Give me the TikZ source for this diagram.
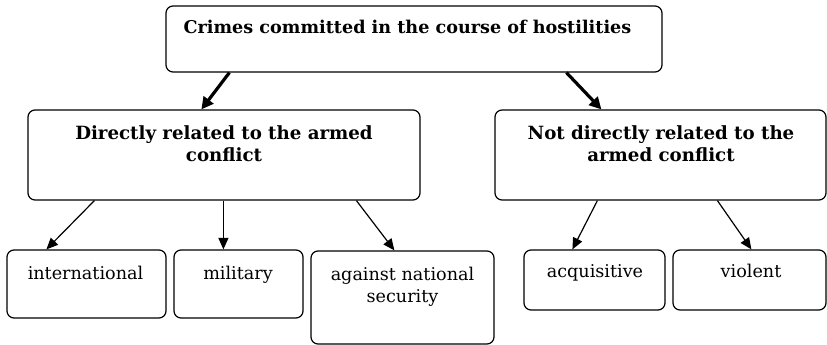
\documentclass[tikz,border=0pt]{standalone}
\usepackage{fontspec}
\setmainfont{DejaVu Serif}
\usetikzlibrary{arrows.meta}

\newcommand{\lines}[1]{\begin{tabular}[t]{@{}c@{}}#1\end{tabular}}

\tikzset{
  card/.style={draw, line width=1.2pt, rounded corners=7pt, inner sep=0pt},
  headtext/.style={anchor=base, inner sep=0pt, font=\bfseries\fontsize{17.6}{22}\selectfont},
  midtext/.style={anchor=base, inner sep=0pt, font=\bfseries\fontsize{18.2}{22}\selectfont},
  leaftext/.style={anchor=base, inner sep=0pt, font=\fontsize{17.6}{21.5}\selectfont},
  boldlink/.style={line width=3.2pt, -{Triangle[length=12pt,width=12pt]}},
  thinlink/.style={line width=1.2pt, -{Triangle[length=11.5pt,width=10pt]}}
}

\begin{document}
\begin{tikzpicture}[x=1pt,y=1pt]
  \useasboundingbox (0,0) rectangle (827,345);

  % boxes
  \node[card, minimum width=496pt, minimum height=66pt] (top)  at (414,306)   {};
  \node[card, minimum width=392pt, minimum height=90pt] (dir)  at (224,190)   {};
  \node[card, minimum width=331pt, minimum height=90pt] (ndir) at (660.5,190) {};
  \node[card, minimum width=159pt, minimum height=68pt] (intl) at (86.5,61)   {};
  \node[card, minimum width=129pt, minimum height=68pt] (mil)  at (238.5,61)  {};
  \node[card, minimum width=183pt, minimum height=93pt] (nat)  at (402.5,47.5){};
  \node[card, minimum width=141pt, minimum height=60pt] (acq)  at (594.5,65)  {};
  \node[card, minimum width=153pt, minimum height=60pt] (vio)  at (749.5,65)  {};

  % texts
  \node[headtext] (topT)  at (407.5,311) {Crimes committed in the course of hostilities};
  \node[midtext]  (dirT)  at (224,205)   {\lines{Directly related to the armed\\conflict}};
  \node[midtext]  (ndirT) at (661,205)   {\lines{Not directly related to the\\armed conflict}};
  \node[leaftext] (intlT) at (85.5,65)   {international};
  \node[leaftext] (milT)  at (238,65)    {military};
  \node[leaftext] (natT)  at (402.5,64)  {\lines{against national\\security}};
  \node[leaftext] (acqT)  at (595,67)    {acquisitive};
  \node[leaftext] (vioT)  at (751,67)    {violent};

  % connectors
  \draw[boldlink] ([xshift=64pt]top.south west)  -- ([xshift=174pt]dir.north west);
  \draw[boldlink] ([xshift=401pt]top.south west) -- ([xshift=107pt]ndir.north west);
  \draw[thinlink] ([xshift=67pt]dir.south west)  -- ([xshift=40pt]intl.north west);
  \draw[thinlink] ([xshift=196pt]dir.south west) -- ([xshift=50pt]mil.north west);
  \draw[thinlink] ([xshift=329pt]dir.south west) -- ([xshift=84pt]nat.north west);
  \draw[thinlink] ([xshift=103pt]ndir.south west) -- ([xshift=49pt]acq.north west);
  \draw[thinlink] ([xshift=223pt]ndir.south west) -- ([xshift=79pt]vio.north west);
\end{tikzpicture}
\end{document}
